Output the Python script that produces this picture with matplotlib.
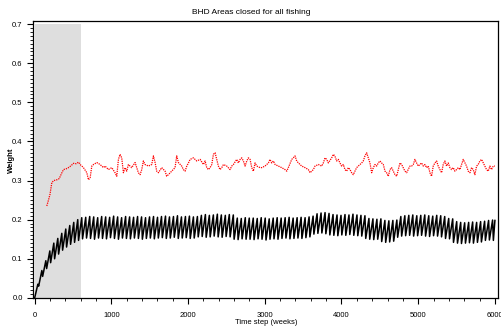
import matplotlib
matplotlib.use("Agg")
import matplotlib.pyplot as plt
import numpy as np
from matplotlib.ticker import MultipleLocator

plt.rcParams["font.family"] = ["Liberation Sans", "DejaVu Sans"]

# black series: one trough / peak pair per 52-week cycle
cycle_len = 52
trough = [0.000, 0.030, 0.055, 0.075, 0.090, 0.100, 0.112, 0.122, 0.130, 0.137, 0.142, 0.147,
          0.151, 0.153, 0.152, 0.150, 0.153, 0.152, 0.151, 0.154, 0.152, 0.150, 0.153, 0.152,
          0.151, 0.153, 0.152, 0.150, 0.152, 0.153, 0.151, 0.153, 0.154, 0.152, 0.153, 0.155,
          0.152, 0.153, 0.154, 0.152, 0.153, 0.156, 0.157, 0.155, 0.156, 0.158, 0.156, 0.155,
          0.157, 0.156, 0.150, 0.149, 0.151, 0.150, 0.150, 0.149, 0.151, 0.150, 0.148, 0.150,
          0.151, 0.150, 0.152, 0.153, 0.151, 0.152, 0.153, 0.152, 0.154, 0.156, 0.163, 0.165,
          0.166, 0.164, 0.161, 0.160, 0.159, 0.161, 0.160, 0.162, 0.160, 0.159, 0.158, 0.152,
          0.150, 0.149, 0.150, 0.144, 0.142, 0.143, 0.145, 0.155, 0.158, 0.159, 0.160, 0.158,
          0.159, 0.160, 0.158, 0.157, 0.159, 0.158, 0.156, 0.152, 0.151, 0.142, 0.140, 0.139,
          0.140, 0.141, 0.140, 0.142, 0.143, 0.147, 0.148, 0.147]
peak = [0.035, 0.070, 0.095, 0.120, 0.140, 0.152, 0.165, 0.176, 0.185, 0.193, 0.200, 0.205,
        0.206, 0.208, 0.207, 0.205, 0.208, 0.207, 0.206, 0.209, 0.207, 0.205, 0.208, 0.207,
        0.206, 0.208, 0.207, 0.205, 0.207, 0.208, 0.206, 0.208, 0.209, 0.207, 0.208, 0.210,
        0.207, 0.208, 0.209, 0.207, 0.208, 0.211, 0.213, 0.211, 0.212, 0.214, 0.212, 0.211,
        0.213, 0.212, 0.204, 0.203, 0.205, 0.204, 0.204, 0.203, 0.205, 0.204, 0.202, 0.204,
        0.205, 0.204, 0.205, 0.206, 0.204, 0.205, 0.206, 0.205, 0.207, 0.209, 0.215, 0.217,
        0.218, 0.216, 0.213, 0.212, 0.211, 0.213, 0.212, 0.214, 0.212, 0.211, 0.210, 0.203,
        0.202, 0.201, 0.202, 0.198, 0.197, 0.198, 0.199, 0.208, 0.210, 0.211, 0.212, 0.210,
        0.211, 0.212, 0.210, 0.209, 0.211, 0.210, 0.208, 0.203, 0.202, 0.195, 0.193, 0.192,
        0.193, 0.194, 0.193, 0.195, 0.196, 0.198, 0.199, 0.198]

# red series (weeks, value)
red_weeks = [158, 180, 200, 224, 250, 290, 320, 350, 376, 410, 440, 475, 506, 540, 571, 593,
             636, 680, 701, 723, 745, 767, 810, 853, 897, 918, 961, 1005, 1048, 1070, 1092,
             1113, 1135, 1157, 1179, 1200, 1222, 1265, 1309, 1352, 1374, 1396, 1417, 1439,
             1483, 1526, 1548, 1570, 1591, 1613, 1656, 1700, 1721, 1743, 1787, 1830, 1852,
             1874, 1917, 1939, 1961, 1983, 2005, 2026, 2070, 2113, 2157, 2200, 2222, 2243,
             2265, 2287, 2309, 2330, 2352, 2374, 2395, 2417, 2439, 2461, 2504, 2547, 2569,
             2591, 2634, 2656, 2678, 2699, 2721, 2743, 2765, 2786, 2808, 2830, 2851, 2873,
             2895, 2938, 2960, 3003, 3047, 3068, 3090, 3112, 3134, 3177, 3220, 3264, 3286,
             3307, 3351, 3372, 3394, 3416, 3438, 3481, 3524, 3568, 3590, 3611, 3633, 3655,
             3698, 3742, 3763, 3785, 3807, 3828, 3872, 3894, 3915, 3937, 3959, 3980, 4002,
             4024, 4045, 4067, 4089, 4111, 4132, 4154, 4176, 4197, 4219, 4241, 4263, 4284,
             4306, 4328, 4349, 4371, 4393, 4415, 4436, 4458, 4480, 4501, 4523, 4545, 4567,
             4588, 4610, 4632, 4653, 4675, 4697, 4719, 4740, 4762, 4784, 4805, 4827, 4849,
             4892, 4914, 4936, 4957, 4979, 5001, 5022, 5044, 5066, 5088, 5109, 5131, 5153,
             5174, 5196, 5218, 5240, 5261, 5283, 5305, 5326, 5348, 5370, 5392, 5413, 5435,
             5457, 5478, 5500, 5522, 5544, 5565, 5587, 5609, 5630, 5652, 5674, 5696, 5717,
             5739, 5761, 5782, 5804, 5826, 5848, 5869, 5891, 5913, 5935, 5956, 5978, 6000]
red_vals = [0.235, 0.250, 0.265, 0.295, 0.300, 0.302, 0.305, 0.318, 0.328, 0.330, 0.333, 0.338,
            0.344, 0.343, 0.347, 0.341, 0.333, 0.320, 0.302, 0.307, 0.337, 0.341, 0.346, 0.341,
            0.333, 0.337, 0.328, 0.333, 0.320, 0.311, 0.354, 0.367, 0.358, 0.320, 0.333, 0.324,
            0.341, 0.333, 0.346, 0.320, 0.315, 0.328, 0.350, 0.341, 0.337, 0.341, 0.363, 0.346,
            0.324, 0.320, 0.333, 0.324, 0.311, 0.315, 0.324, 0.333, 0.363, 0.346, 0.337, 0.328,
            0.324, 0.337, 0.345, 0.354, 0.358, 0.350, 0.354, 0.341, 0.350, 0.333, 0.328, 0.333,
            0.341, 0.367, 0.371, 0.354, 0.337, 0.328, 0.333, 0.341, 0.337, 0.328, 0.337, 0.341,
            0.354, 0.345, 0.354, 0.358, 0.350, 0.337, 0.350, 0.358, 0.354, 0.333, 0.324, 0.345,
            0.337, 0.333, 0.333, 0.337, 0.345, 0.354, 0.345, 0.350, 0.341, 0.337, 0.333, 0.328,
            0.324, 0.333, 0.354, 0.358, 0.363, 0.350, 0.345, 0.337, 0.333, 0.328, 0.320, 0.324,
            0.328, 0.337, 0.341, 0.337, 0.345, 0.358, 0.354, 0.345, 0.358, 0.367, 0.362, 0.350,
            0.354, 0.345, 0.337, 0.341, 0.328, 0.324, 0.333, 0.328, 0.320, 0.315, 0.324, 0.333,
            0.337, 0.341, 0.345, 0.350, 0.363, 0.371, 0.358, 0.345, 0.320, 0.333, 0.341, 0.337,
            0.345, 0.350, 0.345, 0.341, 0.324, 0.320, 0.311, 0.328, 0.333, 0.324, 0.315, 0.311,
            0.328, 0.345, 0.341, 0.333, 0.324, 0.320, 0.337, 0.337, 0.341, 0.354, 0.345, 0.337,
            0.341, 0.345, 0.337, 0.341, 0.333, 0.337, 0.320, 0.311, 0.337, 0.345, 0.350, 0.337,
            0.328, 0.320, 0.341, 0.350, 0.337, 0.345, 0.333, 0.328, 0.333, 0.324, 0.328, 0.333,
            0.328, 0.341, 0.354, 0.345, 0.337, 0.324, 0.320, 0.333, 0.328, 0.315, 0.337, 0.341,
            0.350, 0.354, 0.345, 0.337, 0.328, 0.324, 0.337, 0.328, 0.337, 0.337]

closed_end = 600
title = "BHD Areas closed for all fishing"

# zigzag: slanted rise to the peak, quick drop to the next trough
bx, by = [], []
for k in range(len(trough)):
    t0 = k * cycle_len
    bx += [t0, t0 + 0.8 * cycle_len]
    by += [trough[k], peak[k]]
bx = np.minimum(bx, 6000)

fig = plt.figure(figsize=(5.02, 3.27), dpi=100)
ax = fig.add_axes([0.066, 0.089, 0.926, 0.847])

ax.fill_between([0, closed_end], 0, 0.7, color="#dedede", lw=0)
ax.plot(bx, by, color="black", lw=1.1)
ax.plot(red_weeks, red_vals, color="red", lw=0.9, ls=(0, (1, 0.8)))

ax.set_xlim(-20, 6040)
ax.set_ylim(0, 0.708)
ax.xaxis.set_major_locator(MultipleLocator(1000))
ax.xaxis.set_minor_locator(MultipleLocator(200))
ax.yaxis.set_major_locator(MultipleLocator(0.1))
ax.yaxis.set_minor_locator(MultipleLocator(0.01))
ax.set_yticklabels(["%.1f" % v for v in ax.get_yticks()])
ax.tick_params(which="major", length=4, width=0.8, labelsize=5.5, direction="out")
ax.tick_params(which="minor", length=2, width=0.6, direction="out")
ax.tick_params(axis="x", pad=6)
for s in ax.spines.values():
    s.set_linewidth(0.9)

fig.text(0.5, 0.962, title, fontsize=6, ha="center", va="center")
fig.text(0.53, 0.014, "Time step (weeks)", fontsize=5.5, ha="center", va="center")
fig.text(0.022, 0.51, "Weight", fontsize=5.5, fontweight="bold", rotation=90,
         ha="center", va="center")

fig.savefig("out.png", dpi=100)
